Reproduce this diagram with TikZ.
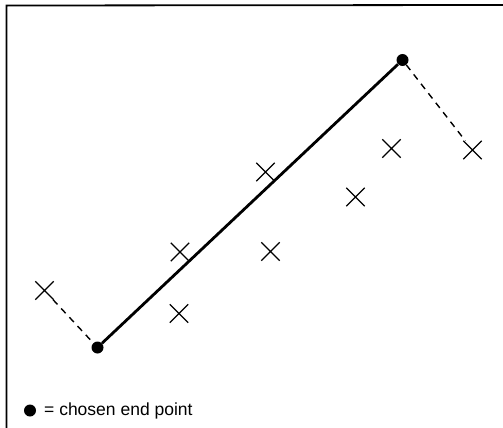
\documentclass[tikz,border=0pt]{standalone}
\usepackage{fontspec}
\setmainfont{Liberation Sans}
\usetikzlibrary{shapes.misc}
\begin{document}
\begin{tikzpicture}[x=1pt,y=-1pt,
  sample/.style={cross out,draw,line width=1.4pt,minimum size=17pt,inner sep=0pt},
  endpt/.style={circle,fill,minimum size=12pt,inner sep=0pt},
  fitline/.style={line width=2.8pt},
  resid/.style={line width=1.4pt,dash pattern=on 6.5pt off 5.5pt},
  frameline/.style={line width=1.8pt}]
\useasboundingbox (0,0) rectangle (503,428);
\coordinate (fc) at (6.5,428);
\coordinate (ftl) at (6.5,5.5);
\coordinate (ftr) at (503,5);
\draw[frameline] (fc) -- (ftl) -- (ftr);
\node[endpt] (d1) at (97.5,347.5) {};
\node[endpt] (d2) at (402.5,60) {};
\node[sample] (x1) at (44.5,290.5) {};
\node[sample] (x2) at (179,313.5) {};
\node[sample] (x3) at (180,252) {};
\node[sample] (x4) at (265.5,172) {};
\node[sample] (x5) at (270.5,251.5) {};
\node[sample] (x6) at (355.5,197) {};
\node[sample] (x7) at (391.5,148.5) {};
\node[sample] (x8) at (472.5,150) {};
\draw[fitline] (d1) -- (d2);
\draw[resid] (x1) -- (d1);
\draw[resid] (d2) -- (x8);
\node[endpt] (ld) at (30,410.5) {};
\node[anchor=west,inner sep=0pt,font=\fontsize{17.5}{19}\selectfont] (lt) at (44,410.5) {= chosen end point};
\end{tikzpicture}
\end{document}
